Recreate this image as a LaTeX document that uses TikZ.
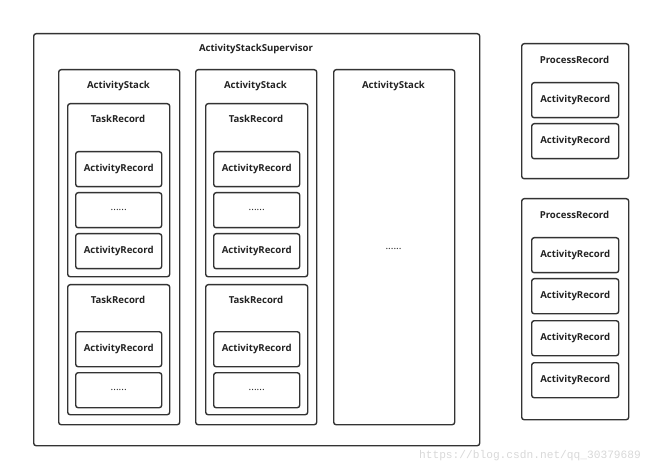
\documentclass[tikz,border=0pt]{standalone}
\usepackage{fontspec}
\setmainfont{Open Sans}
\newfontfamily\wmfont{Liberation Mono}
\definecolor{linec}{HTML}{333333}
\definecolor{textc}{HTML}{222222}
\definecolor{wmc}{HTML}{D8D8D8}
\begin{document}
\begin{tikzpicture}[x=1bp,y=-1bp,
  box/.style={draw=linec, line width=1.4bp, rounded corners=2.5bp, inner sep=0pt, anchor=north west, font=\fontsize{9.6bp}{11bp}\selectfont\bfseries, text=textc},
  ttl/.style={font=\fontsize{9.6bp}{11bp}\selectfont\bfseries, text=textc, inner sep=0pt},
  dotsty/.style={font=\fontsize{10bp}{11bp}\selectfont, text=textc, inner sep=0pt}]
\useasboundingbox (0,0) rectangle (650,468);
\newcommand\rbox[5]{\node[box, minimum width=#4bp, minimum height=35bp] (#1) at (#2,#3) {#5};}
\newcommand\dbox[4]{\node[box, minimum width=#4bp, minimum height=35bp] (#1) at (#2,#3) {\mdseries\fontsize{10bp}{11bp}\selectfont ......};}
% Supervisor
\node[box, minimum width=446bp, minimum height=412bp] (sup) at (33,33) {};
\node[ttl] (supt) at (256,49) {ActivityStackSupervisor};
% ActivityStack 1
\node[box, minimum width=121bp, minimum height=355bp] (as1) at (58,69) {};
\node[ttl] (as1t) at (118.5,86) {ActivityStack};
\node[box, minimum width=102bp, minimum height=173bp] (tr1a) at (67,103) {};
\node[ttl] (tr1at) at (118,119) {TaskRecord};
\rbox{r1a1}{75}{151}{86}{ActivityRecord}
\dbox{r1a2}{75}{192}{86}
\rbox{r1a3}{75}{233}{86}{ActivityRecord}
\node[box, minimum width=102bp, minimum height=130bp] (tr1b) at (67,284) {};
\node[ttl] (tr1bt) at (118,300) {TaskRecord};
\rbox{r1b1}{75}{331}{86}{ActivityRecord}
\dbox{r1b2}{75}{372}{86}
% ActivityStack 2
\node[box, minimum width=121bp, minimum height=355bp] (as2) at (195,69) {};
\node[ttl] (as2t) at (255.5,86) {ActivityStack};
\node[box, minimum width=102bp, minimum height=173bp] (tr2a) at (205,103) {};
\node[ttl] (tr2at) at (256,119) {TaskRecord};
\rbox{r2a1}{213}{151}{86}{ActivityRecord}
\dbox{r2a2}{213}{192}{86}
\rbox{r2a3}{213}{233}{86}{ActivityRecord}
\node[box, minimum width=102bp, minimum height=130bp] (tr2b) at (205,284) {};
\node[ttl] (tr2bt) at (256,300) {TaskRecord};
\rbox{r2b1}{213}{331}{86}{ActivityRecord}
\dbox{r2b2}{213}{372}{86}
% ActivityStack 3
\node[box, minimum width=121bp, minimum height=355bp] (as3) at (333,69) {};
\node[ttl] (as3t) at (393.5,86) {ActivityStack};
\node[dotsty] (as3d) at (393.5,249) {......};
% ProcessRecord 1
\node[box, minimum width=107bp, minimum height=135bp] (pr1) at (521,43) {};
\node[ttl] (pr1t) at (574.5,60) {ProcessRecord};
\rbox{p1r1}{531}{82}{87}{ActivityRecord}
\rbox{p1r2}{531}{123}{87}{ActivityRecord}
% ProcessRecord 2
\node[box, minimum width=107bp, minimum height=221bp] (pr2) at (521,198) {};
\node[ttl] (pr2t) at (574.5,215) {ProcessRecord};
\rbox{p2r1}{531}{237}{87}{ActivityRecord}
\rbox{p2r2}{531}{278}{87}{ActivityRecord}
\rbox{p2r3}{531}{320}{87}{ActivityRecord}
\rbox{p2r4}{531}{362}{87}{ActivityRecord}
% watermark
\node[inner sep=0pt, text=wmc, font=\wmfont\fontsize{11.2bp}{12bp}\selectfont] (wm) at (530,456) {https://blog.csdn.net/qq\_30379689};
\end{tikzpicture}
\end{document}
